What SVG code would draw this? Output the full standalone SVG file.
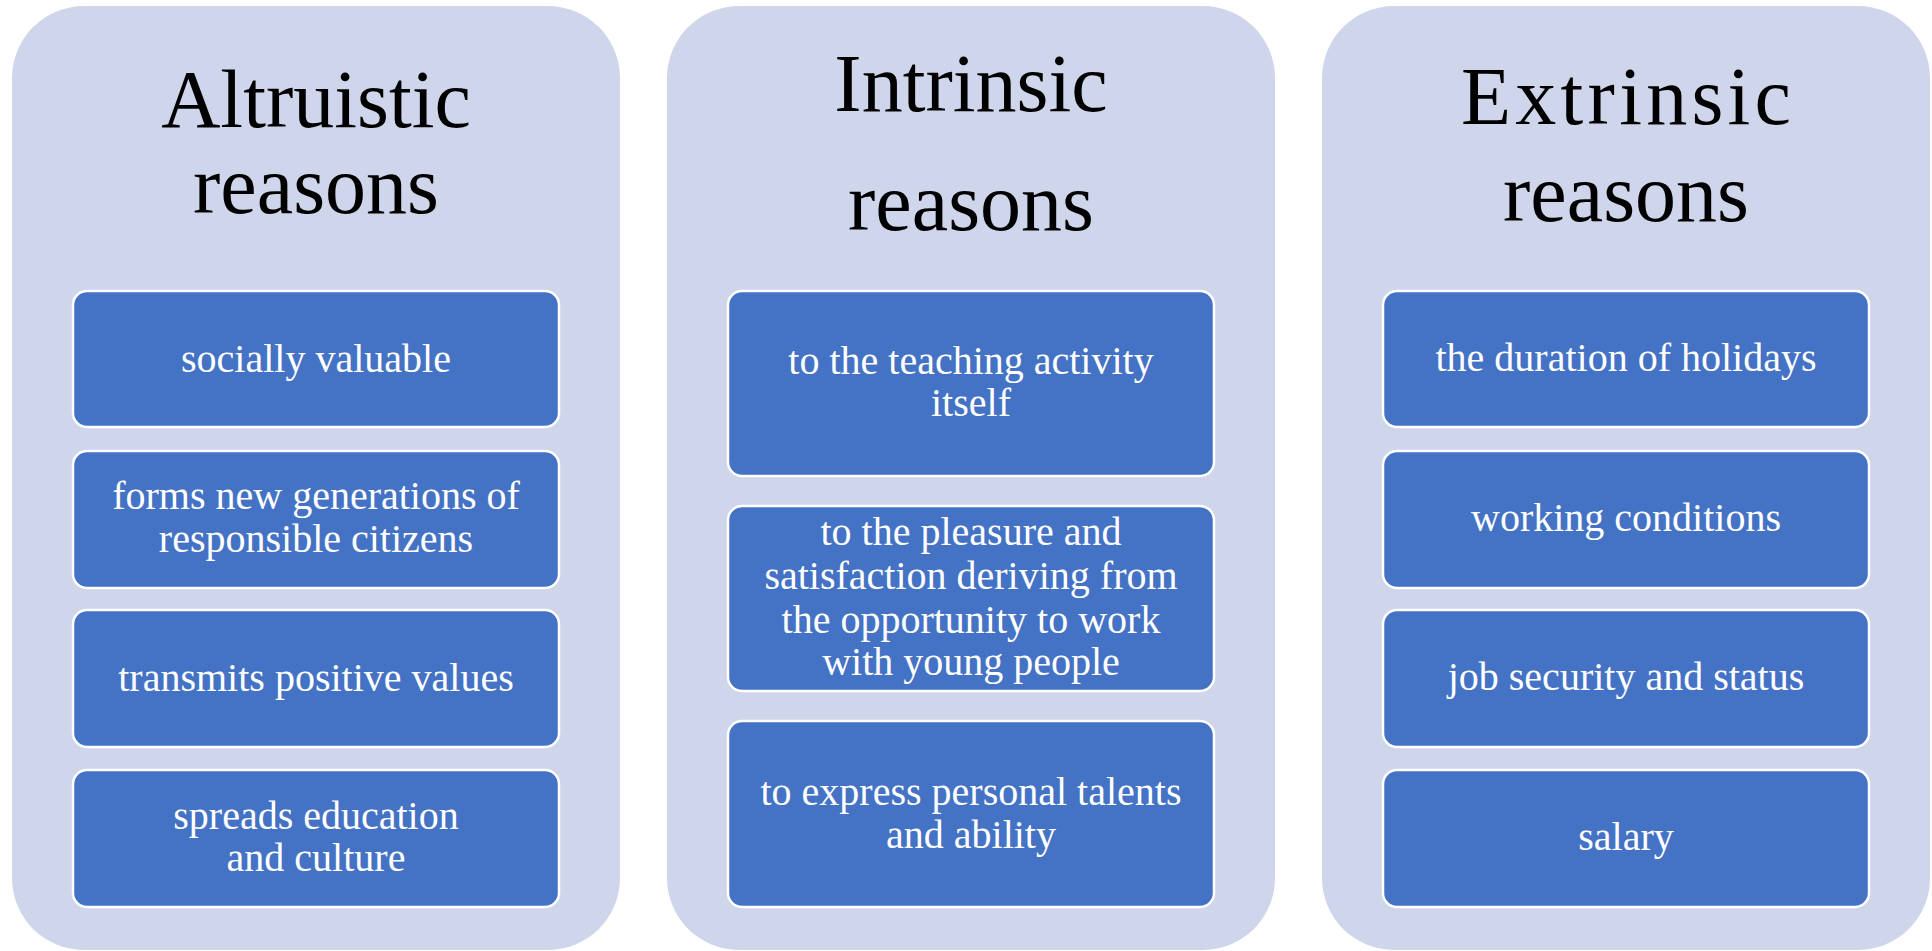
<svg xmlns="http://www.w3.org/2000/svg" width="1932" height="951" viewBox="0 0 1932 951">
  <style>
    .panel { fill: #CFD5EA; }
    .box { fill: #4472C4; stroke: #FFFFFF; stroke-width: 2.5; }
    .title { font-family: "Liberation Serif", "DejaVu Serif", serif; font-size: 82px; fill: #000000; text-anchor: middle; }
    .item { font-family: "Liberation Serif", "DejaVu Serif", serif; font-size: 40px; fill: #FFFFFF; text-anchor: middle; }
  </style>
  <rect width="1932" height="951" fill="#FFFFFF"/>

  <!-- Column 1: altruistic -->
  <g id="altruistic">
    <rect class="panel" x="12" y="6" width="608" height="944" rx="72" ry="72"/>
    <text class="title" x="316" y="127">Altruistic</text>
    <text class="title" x="316" y="213">reasons</text>
  </g>
  <g id="socially-valuable">
    <rect class="box" x="73" y="291" width="486" height="136" rx="14" ry="14"/>
    <text class="item" x="316" y="372">socially valuable</text>
  </g>
  <g id="forms-generations">
    <rect class="box" x="73" y="451" width="486" height="137" rx="14" ry="14"/>
    <text class="item" x="316" y="509">forms new generations of</text>
    <text class="item" x="316" y="552">responsible citizens</text>
  </g>
  <g id="positive-values">
    <rect class="box" x="73" y="610" width="486" height="137" rx="14" ry="14"/>
    <text class="item" x="316" y="691">transmits positive values</text>
  </g>
  <g id="education-culture">
    <rect class="box" x="73" y="770" width="486" height="137" rx="14" ry="14"/>
    <text class="item" x="316" y="829">spreads education</text>
    <text class="item" x="316" y="871">and culture</text>
  </g>

  <!-- Column 2: intrinsic -->
  <g id="intrinsic">
    <rect class="panel" x="667" y="6" width="608" height="944" rx="72" ry="72"/>
    <text class="title" x="971" y="111">Intrinsic</text>
    <text class="title" x="971" y="230">reasons</text>
  </g>
  <g id="teaching-activity">
    <rect class="box" x="728" y="291" width="486" height="185" rx="14" ry="14"/>
    <text class="item" x="971" y="374">to the teaching activity</text>
    <text class="item" x="971" y="416">itself</text>
  </g>
  <g id="young-people">
    <rect class="box" x="728" y="506" width="486" height="185" rx="14" ry="14"/>
    <text class="item" x="971" y="545">to the pleasure and</text>
    <text class="item" x="971" y="589">satisfaction deriving from</text>
    <text class="item" x="971" y="633">the opportunity to work</text>
    <text class="item" x="971" y="675">with young people</text>
  </g>
  <g id="personal-talents">
    <rect class="box" x="728" y="721" width="486" height="186" rx="14" ry="14"/>
    <text class="item" x="971" y="805">to express personal talents</text>
    <text class="item" x="971" y="848">and ability</text>
  </g>

  <!-- Column 3: extrinsic -->
  <g id="extrinsic">
    <rect class="panel" x="1322" y="6" width="608" height="944" rx="72" ry="72"/>
    <text class="title" x="1626" y="124" textLength="330" lengthAdjust="spacing">Extrinsic</text>
    <text class="title" x="1626" y="221">reasons</text>
  </g>
  <g id="holidays">
    <rect class="box" x="1383" y="291" width="486" height="136" rx="14" ry="14"/>
    <text class="item" x="1626" y="371">the duration of holidays</text>
  </g>
  <g id="working-conditions">
    <rect class="box" x="1383" y="451" width="486" height="137" rx="14" ry="14"/>
    <text class="item" x="1626" y="531">working conditions</text>
  </g>
  <g id="job-security">
    <rect class="box" x="1383" y="610" width="486" height="137" rx="14" ry="14"/>
    <text class="item" x="1626" y="690">job security and status</text>
  </g>
  <g id="salary">
    <rect class="box" x="1383" y="770" width="486" height="137" rx="14" ry="14"/>
    <text class="item" x="1626" y="850">salary</text>
  </g>

  <!-- no connectors in this layout -->
  <g id="connectors"/>
</svg>
